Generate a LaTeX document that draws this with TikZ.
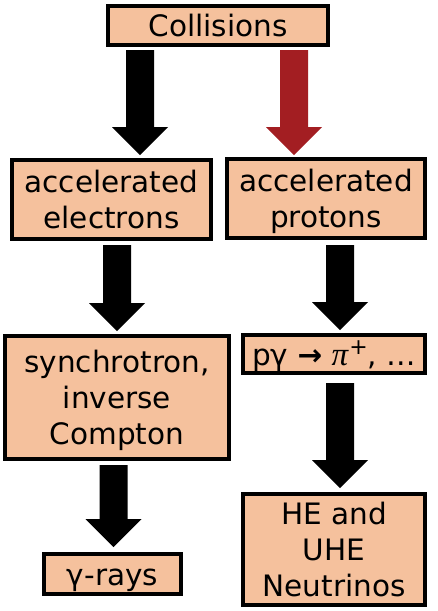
\documentclass[tikz,border=0pt]{standalone}
\usepackage{fontspec}
\setmainfont{DejaVu Sans}
\newfontfamily\pifont{Liberation Serif}
\usetikzlibrary{calc}
\definecolor{peach}{RGB}{245,193,157}
\definecolor{darkred}{RGB}{163,30,34}
\newcommand\fatarrow[3]{%
  \fill[#1] ($(#2)+(-14,0)$) -- ($(#2)+(14,0)$) -- ($(#3)+(14,-28)$) -- ($(#3)+(28,-28)$) -- (#3)
    -- ($(#3)+(-28,-28)$) -- ($(#3)+(-14,-28)$) -- cycle;}
\newcommand\ls{\rule[-7pt]{0pt}{36pt}}
\begin{document}
\begin{tikzpicture}[x=1pt,y=-1pt,
  box/.style={draw=black, line width=4pt, fill=peach, inner sep=0pt, align=center,
    font=\fontsize{29.5}{36}\selectfont, text=black}]
\useasboundingbox (0,0) rectangle (437,611);
\node[box, minimum width=220, minimum height=39] (coll) at (218,25.5) {\ls Collisions};
\node[box, minimum width=199, minimum height=79] (elec) at (111.5,199.5) {\ls accelerated\\\ls electrons};
\node[box, minimum width=198, minimum height=79] (prot) at (326,198.5) {\ls accelerated\\\ls protons};
\node[box, minimum width=224, minimum height=123] (sync) at (117,397.5) {\ls synchrotron,\\\ls inverse\\\ls Compton};
\node[box, minimum width=182, minimum height=38] (pgam) at (334,354) {\ls pγ \textbf{→} {\pifont\itshape\fontsize{33}{36}\selectfont π}\kern1pt\raisebox{11pt}{\fontsize{22}{24}\selectfont +}, …};
\node[box, minimum width=137, minimum height=40] (gray) at (112.5,574) {\ls γ-rays};
\node[box, minimum width=182, minimum height=111] (neut) at (334,549.5) {\ls HE and\\\ls UHE\\\ls Neutrinos};
\coordinate (a1s) at (140,50);   \coordinate (a1e) at (140,155);
\coordinate (r1s) at (294,50);   \coordinate (r1e) at (294,155);
\coordinate (a2s) at (117,245);  \coordinate (a2e) at (117,331);
\coordinate (b2s) at (340,245);  \coordinate (b2e) at (340,330);
\coordinate (a3s) at (113.5,465);\coordinate (a3e) at (113.5,547);
\coordinate (b3s) at (340,383);  \coordinate (b3e) at (340,488);
\fatarrow{black}{a1s}{a1e}
\fatarrow{darkred}{r1s}{r1e}
\fatarrow{black}{a2s}{a2e}
\fatarrow{black}{b2s}{b2e}
\fatarrow{black}{a3s}{a3e}
\fatarrow{black}{b3s}{b3e}
\end{tikzpicture}
\end{document}
